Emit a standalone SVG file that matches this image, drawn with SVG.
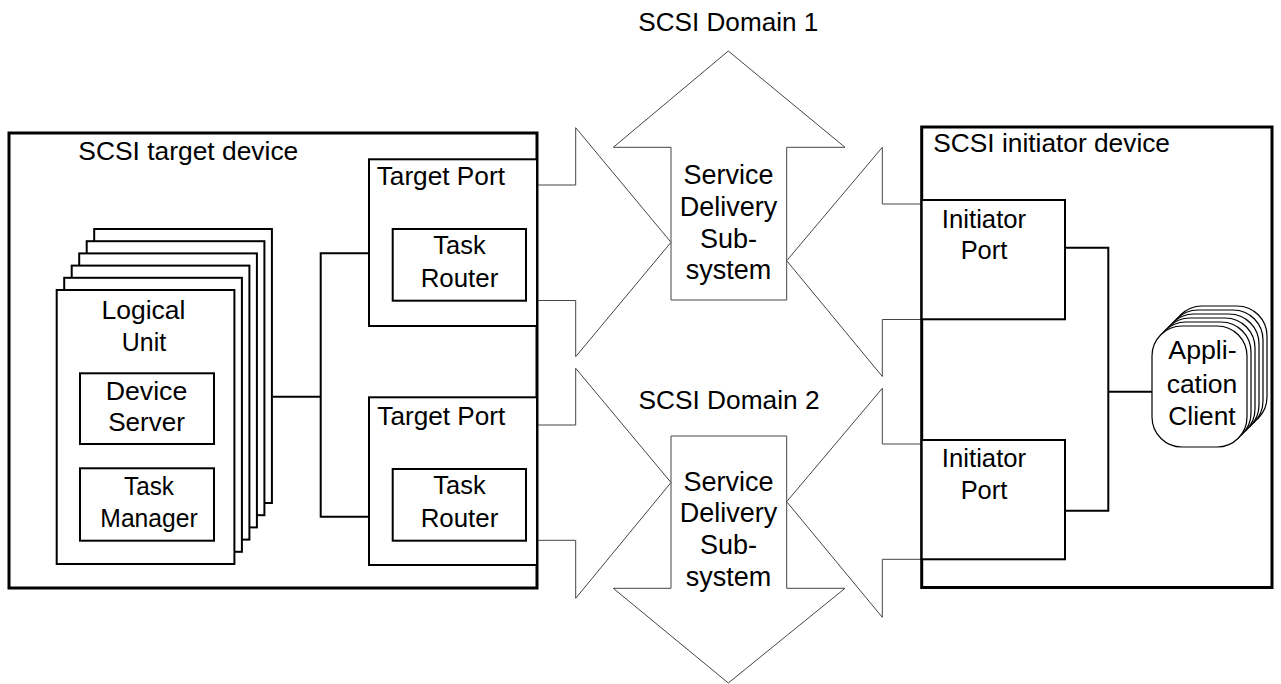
<svg xmlns="http://www.w3.org/2000/svg" width="1281" height="684" viewBox="0 0 1281 684">
<style>
text{font-family:"Liberation Sans",Arial,sans-serif;font-size:25.5px;fill:#000}
.c{text-anchor:middle}
.sd{font-size:27px}
.dev{fill:#fff;stroke:#000;stroke-width:3}
.box{fill:#fff;stroke:#000;stroke-width:2}
.thin{fill:#fff;stroke:#000;stroke-width:1.2}
.arr{fill:#fff;stroke:#444;stroke-width:1}
.wire{fill:none;stroke:#000;stroke-width:2}
</style>
<rect width="1281" height="684" fill="#fff"/>

<g id="domain1">
  <polygon class="arr" points="671,300 671,147.3 613.3,147.3 728.3,51 845,147.3 786.7,147.3 786.7,300"/>
  <polyline class="arr" points="537,185 575.7,185 575.7,127.7 671,242.3 575.7,356.7 575.7,300.5 537,300.5"/>
  <polyline class="arr" points="921.7,204 882.3,204 882.3,147.3 786.7,260.7 882.3,376.5 882.3,319.5 921.7,319.5"/>
  <text class="c" x="728.3" y="30.7" textLength="180" lengthAdjust="spacingAndGlyphs">SCSI Domain 1</text>
  <text class="c sd" x="728.5" y="184">Service</text>
  <text class="c sd" x="728.5" y="215.8">Delivery</text>
  <text class="c sd" x="728.5" y="247.6">Sub-</text>
  <text class="c sd" x="728.5" y="279.4">system</text>
</g>

<g id="domain2">
  <polygon class="arr" points="671,436 786.7,436 786.7,588.3 845,588.3 728.3,683 613.3,588.3 671,588.3"/>
  <polyline class="arr" points="537,425 575.7,425 575.7,368.3 671,482.5 575.7,598.3 575.7,540.3 537,540.3"/>
  <polyline class="arr" points="921.7,444 882.3,444 882.3,388.3 786.7,501.7 882.3,617.3 882.3,559.3 921.7,559.3"/>
  <text class="c" x="729" y="409.3" textLength="181" lengthAdjust="spacingAndGlyphs">SCSI Domain 2</text>
  <text class="c sd" x="728.5" y="490.5">Service</text>
  <text class="c sd" x="728.5" y="522.3">Delivery</text>
  <text class="c sd" x="728.5" y="554.1">Sub-</text>
  <text class="c sd" x="728.5" y="586">system</text>
</g>

<g id="target-device">
  <rect class="dev" x="9" y="133" width="528" height="455"/>
  <text x="78.3" y="160" textLength="220" lengthAdjust="spacingAndGlyphs">SCSI target device</text>
</g>

<g id="logical-units">
  <rect class="box" x="94.2" y="229" width="177.7" height="274"/>
  <rect class="box" x="86.7" y="241.2" width="177.7" height="274"/>
  <rect class="box" x="79.2" y="253.4" width="177.7" height="274"/>
  <rect class="box" x="71.7" y="265.6" width="177.7" height="274"/>
  <rect class="box" x="64.2" y="277.8" width="177.7" height="274"/>
  <rect class="box" x="56.7" y="290" width="177.7" height="274"/>
  <text class="c" x="143.5" y="319" textLength="84" lengthAdjust="spacingAndGlyphs">Logical</text>
  <text class="c" x="144" y="350.7" textLength="44.3" lengthAdjust="spacingAndGlyphs">Unit</text>
</g>

<g id="device-server">
  <rect class="box" x="80" y="373.3" width="134" height="70.7"/>
  <text class="c" x="146.5" y="400" textLength="81.7" lengthAdjust="spacingAndGlyphs">Device</text>
  <text class="c" x="146.5" y="430.7" textLength="76.7" lengthAdjust="spacingAndGlyphs">Server</text>
</g>

<g id="task-manager">
  <rect class="box" x="80" y="468.3" width="134" height="72.4"/>
  <text class="c" x="149" y="495" textLength="50" lengthAdjust="spacingAndGlyphs">Task</text>
  <text class="c" x="149" y="526.7" textLength="97.3" lengthAdjust="spacingAndGlyphs">Manager</text>
</g>

<g id="target-port-1">
  <rect class="box" x="369" y="159.3" width="168" height="166.7"/>
  <text x="376.7" y="185" textLength="128.3" lengthAdjust="spacingAndGlyphs">Target Port</text>
</g>
<g id="task-router-1">
  <rect class="box" x="392.7" y="229" width="133.3" height="71.7"/>
  <text class="c" x="459.5" y="254.3" textLength="52.3" lengthAdjust="spacingAndGlyphs">Task</text>
  <text class="c" x="459.5" y="286.7" textLength="77.7" lengthAdjust="spacingAndGlyphs">Router</text>
</g>

<g id="target-port-2">
  <rect class="box" x="369" y="397.3" width="168" height="167.7"/>
  <text x="377.3" y="425" textLength="128" lengthAdjust="spacingAndGlyphs">Target Port</text>
</g>
<g id="task-router-2">
  <rect class="box" x="392.7" y="469" width="133.3" height="71.7"/>
  <text class="c" x="459.5" y="494.3" textLength="52.3" lengthAdjust="spacingAndGlyphs">Task</text>
  <text class="c" x="459.5" y="526.7" textLength="77.7" lengthAdjust="spacingAndGlyphs">Router</text>
</g>

<g id="initiator-device">
  <rect class="dev" x="921.7" y="127" width="350.3" height="460.5"/>
  <text x="933.3" y="151.7" textLength="236.7" lengthAdjust="spacingAndGlyphs">SCSI initiator device</text>
</g>

<g id="initiator-port-1">
  <rect class="box" x="921.7" y="200" width="143.3" height="119.3"/>
  <text class="c" x="984" y="228.3" textLength="84.3" lengthAdjust="spacingAndGlyphs">Initiator</text>
  <text class="c" x="984" y="259" textLength="46.7" lengthAdjust="spacingAndGlyphs">Port</text>
</g>

<g id="initiator-port-2">
  <rect class="box" x="921.7" y="440" width="143.3" height="119.3"/>
  <text class="c" x="984" y="467" textLength="84.3" lengthAdjust="spacingAndGlyphs">Initiator</text>
  <text class="c" x="984" y="498.5" textLength="46.7" lengthAdjust="spacingAndGlyphs">Port</text>
</g>

<g id="application-client">
  <rect class="thin" x="1172" y="306" width="95" height="121" rx="30" ry="30"/>
  <rect class="thin" x="1168" y="310" width="95" height="121" rx="30" ry="30"/>
  <rect class="thin" x="1164" y="314" width="95" height="121" rx="30" ry="30"/>
  <rect class="thin" x="1160" y="318" width="95" height="121" rx="30" ry="30"/>
  <rect class="thin" x="1156" y="322" width="95" height="121" rx="30" ry="30"/>
  <rect class="thin" x="1152" y="326" width="95" height="121" rx="30" ry="30"/>
  <text class="c" x="1202.5" y="359.3" textLength="68.3" lengthAdjust="spacingAndGlyphs">Appli-</text>
  <text class="c" x="1202" y="392.5" textLength="70.7" lengthAdjust="spacingAndGlyphs">cation</text>
  <text class="c" x="1202" y="425" textLength="67.3" lengthAdjust="spacingAndGlyphs">Client</text>
</g>

<g id="connectors">
  <polyline class="wire" points="273,396.7 320.7,396.7"/>
  <polyline class="wire" points="369,253.3 320.7,253.3 320.7,516.7 369,516.7"/>
  <polyline class="wire" points="1065,247.7 1108.3,247.7 1108.3,510.7 1065,510.7"/>
  <polyline class="wire" points="1108.3,391.7 1152,391.7"/>
</g>
</svg>
